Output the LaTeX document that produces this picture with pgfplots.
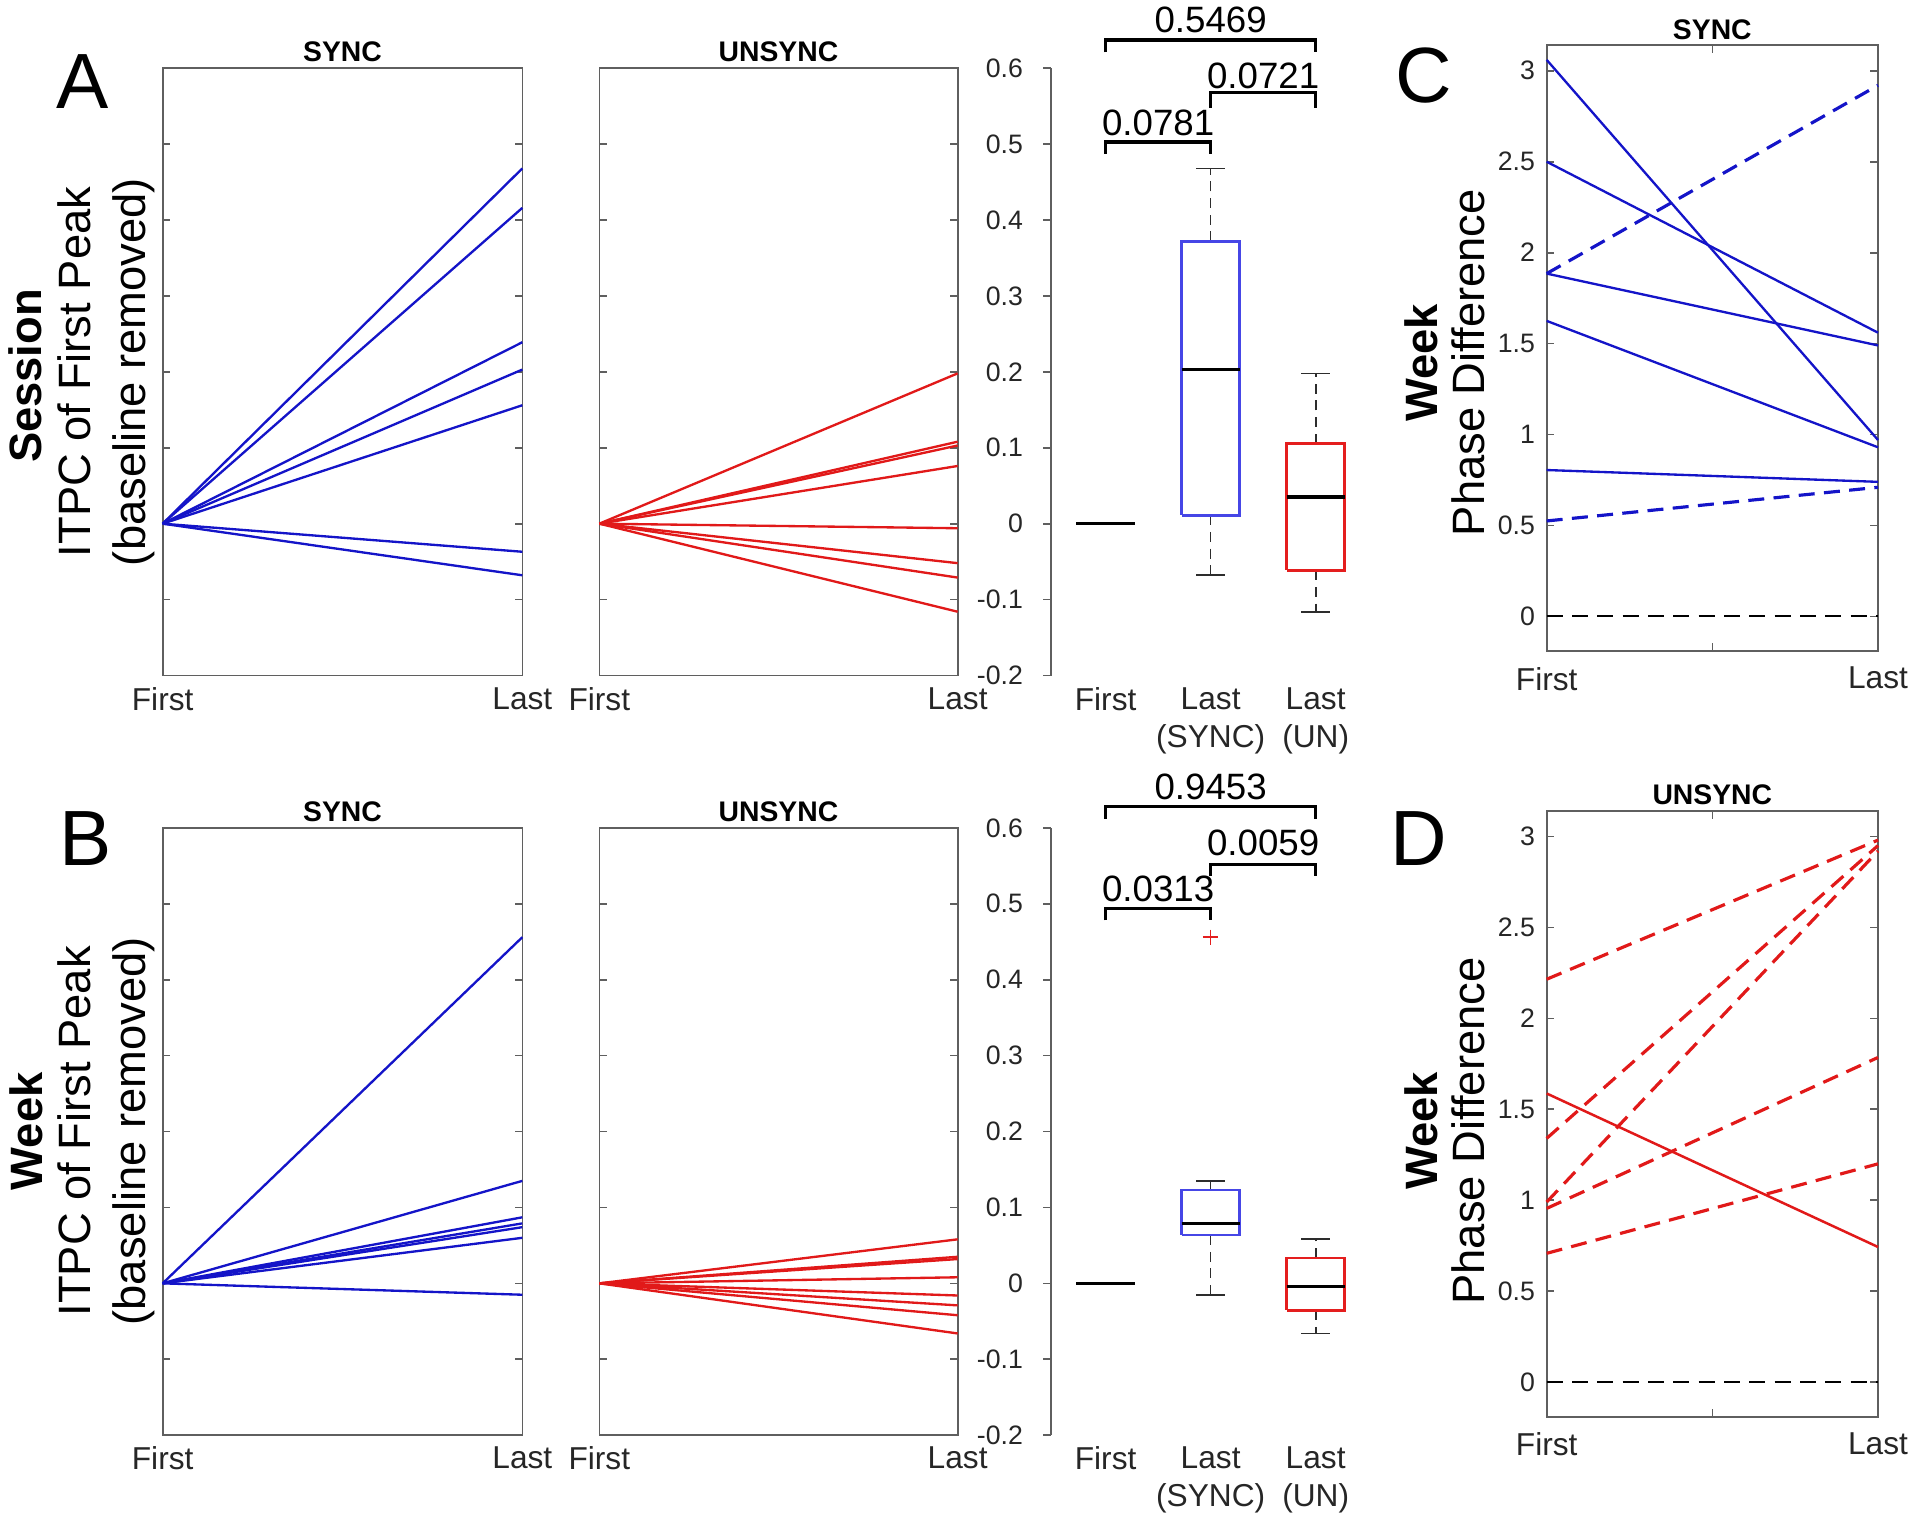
\documentclass[border=0pt]{standalone}
\usepackage{fontspec}
\setmainfont{Liberation Sans}
\usepackage{pgfplots}
\pgfplotsset{compat=1.18}

\definecolor{lblue}{RGB}{20,20,200}
\definecolor{lred}{RGB}{225,25,25}
\definecolor{bblue}{RGB}{70,70,230}
\definecolor{bred}{RGB}{228,30,30}
\definecolor{fr}{RGB}{95,95,95}
\definecolor{wh}{RGB}{45,45,45}

\newcommand{\fsz}[2]{\fontsize{#1}{#2}\selectfont}

\pgfplotsset{
  /pgf/number format/assume math mode=true,
  every axis title shift=0pt,
  basestyle/.style={
    scale only axis, anchor=south west, clip=false,
    axis line style={fr, line width=0.5pt},
    tick style={fr, line width=0.5pt},
    major tick length=2.3pt,
    tick label style={font=\fsz{8}{9.6}, text=black!85},
    title style={font=\bfseries\fsz{8.5}{10}, at={(0.5,1)}, anchor=south, inner sep=1.6pt},
  },
  pairstyle/.style={
    basestyle, height=182.2pt,
    xmin=1, xmax=2, ymin=-0.2, ymax=0.6,
    xtick={1,2}, xticklabels={First,Last},
    ytick={-0.1,0,0.1,0.2,0.3,0.4,0.5}, yticklabels={},
    tick align=inside,
    xtick style={draw=none},
    xticklabel style={font=\fsz{9.5}{11.4}},
  },
  boxstyle/.style={
    basestyle, width=98.3pt, height=182.2pt,
    xmin=0.48, xmax=3.6, ymin=-0.2, ymax=0.6,
    axis y line*=left, axis x line*=bottom,
    x axis line style={draw=none},
    xtick={1,2,3}, xticklabels={First,Last\\(SYNC),Last\\(UN)},
    xtick style={draw=none},
    xticklabel style={font=\fsz{9.5}{11.4}, align=center, yshift=2.3pt},
    ytick={-0.2,-0.1,0,0.1,0.2,0.3,0.4,0.5,0.6},
    yticklabel style={xshift=-2.6pt},
    tick align=outside,
  },
  phasestyle/.style={
    basestyle, width=99.4pt, height=181.7pt,
    xmin=1, xmax=2, ymin=-0.19, ymax=3.14,
    xtick={1,1.5,2}, xticklabels={First,,Last},
    ytick={0,0.5,1,1.5,2,2.5,3},
    tick align=inside,
    xticklabel style={font=\fsz{9.5}{11.4}, yshift=-1.3pt},
  },
  sline/.style={lblue, line width=0.7pt},
  rline/.style={lred, line width=0.7pt},
  dline/.style={line width=0.95pt, dash pattern=on 4.8pt off 2.8pt},
  bracket/.style={black, line width=1pt},
  whisk/.style={wh, line width=0.5pt, dash pattern=on 3pt off 2pt},
  wcap/.style={wh, line width=0.5pt},
  median/.style={black, line width=1pt},
  boxline/.style={line width=0.8pt},
}

\begin{document}
\begin{tikzpicture}
\path[use as bounding box] (0,0) rectangle (575.4pt,456.3pt);

% ---------------- Row A ----------------
\begin{axis}[pairstyle, width=107.9pt, at={(48.8pt,253.65pt)}, title={SYNC}]
\addplot[sline] coordinates {(1,0) (2,0.468)};
\addplot[sline] coordinates {(1,0) (2,0.416)};
\addplot[sline] coordinates {(1,0) (2,0.239)};
\addplot[sline] coordinates {(1,0) (2,0.203)};
\addplot[sline] coordinates {(1,0) (2,0.156)};
\addplot[sline] coordinates {(1,0) (2,-0.037)};
\addplot[sline] coordinates {(1,0) (2,-0.068)};
\end{axis}

\begin{axis}[pairstyle, width=107.5pt, at={(179.8pt,253.65pt)}, title={UNSYNC}]
\addplot[rline] coordinates {(1,0) (2,0.198)};
\addplot[rline] coordinates {(1,0) (2,0.108)};
\addplot[rline] coordinates {(1,0) (2,0.103)};
\addplot[rline] coordinates {(1,0) (2,0.076)};
\addplot[rline] coordinates {(1,0) (2,-0.006)};
\addplot[rline] coordinates {(1,0) (2,-0.052)};
\addplot[rline] coordinates {(1,0) (2,-0.071)};
\addplot[rline] coordinates {(1,0) (2,-0.116)};
\end{axis}

\begin{axis}[boxstyle, at={(315.3pt,253.65pt)}]
% First: all zeros
\addplot[median] coordinates {(0.7225,0) (1.2775,0)};
% Last (SYNC): lw -0.068, q1 0.011, med 0.203, q3 0.372, uw 0.468
\addplot[whisk] coordinates {(2,0.372) (2,0.468)};
\addplot[whisk] coordinates {(2,0.011) (2,-0.068)};
\addplot[wcap] coordinates {(1.865,0.468) (2.135,0.468)};
\addplot[wcap] coordinates {(1.865,-0.068) (2.135,-0.068)};
\addplot[bblue, boxline] coordinates {(1.7225,0.011) (2.2775,0.011) (2.2775,0.372) (1.7225,0.372) (1.7225,0.011)};
\addplot[median] coordinates {(1.7225,0.203) (2.2775,0.203)};
% Last (UN): lw -0.116, q1 -0.0615, med 0.035, q3 0.1055, uw 0.198
\addplot[whisk] coordinates {(3,0.1055) (3,0.198)};
\addplot[whisk] coordinates {(3,-0.0615) (3,-0.116)};
\addplot[wcap] coordinates {(2.865,0.198) (3.135,0.198)};
\addplot[wcap] coordinates {(2.865,-0.116) (3.135,-0.116)};
\addplot[bred, boxline] coordinates {(2.7225,-0.0615) (3.2775,-0.0615) (3.2775,0.1055) (2.7225,0.1055) (2.7225,-0.0615)};
\addplot[median] coordinates {(2.7225,0.035) (3.2775,0.035)};
% significance brackets
\addplot[bracket] coordinates {(1,0.487) (1,0.503) (2,0.503) (2,0.487)};
\addplot[bracket] coordinates {(2,0.548) (2,0.568) (3,0.568) (3,0.548)};
\addplot[bracket] coordinates {(1,0.621) (1,0.637) (3,0.637) (3,0.621)};
\node[font=\fsz{11}{13}] at (axis cs:1.5,0.528) {0.0781};
\node[font=\fsz{11}{13}] at (axis cs:2.5,0.590) {0.0721};
\node[font=\fsz{11}{13}] at (axis cs:2,0.664) {0.5469};
\end{axis}

% ---------------- Row B ----------------
\begin{axis}[pairstyle, width=107.9pt, at={(48.8pt,25.75pt)}, title={SYNC}]
\addplot[sline] coordinates {(1,0) (2,0.456)};
\addplot[sline] coordinates {(1,0) (2,0.135)};
\addplot[sline] coordinates {(1,0) (2,0.087)};
\addplot[sline] coordinates {(1,0) (2,0.079)};
\addplot[sline] coordinates {(1,0) (2,0.074)};
\addplot[sline] coordinates {(1,0) (2,0.060)};
\addplot[sline] coordinates {(1,0) (2,-0.015)};
\end{axis}

\begin{axis}[pairstyle, width=107.5pt, at={(179.8pt,25.75pt)}, title={UNSYNC}]
\addplot[rline] coordinates {(1,0) (2,0.058)};
\addplot[rline] coordinates {(1,0) (2,0.035)};
\addplot[rline] coordinates {(1,0) (2,0.032)};
\addplot[rline] coordinates {(1,0) (2,0.008)};
\addplot[rline] coordinates {(1,0) (2,-0.016)};
\addplot[rline] coordinates {(1,0) (2,-0.029)};
\addplot[rline] coordinates {(1,0) (2,-0.042)};
\addplot[rline] coordinates {(1,0) (2,-0.066)};
\end{axis}

\begin{axis}[boxstyle, at={(315.3pt,25.75pt)}]
\addplot[median] coordinates {(0.7225,0) (1.2775,0)};
% Last (SYNC): lw -0.015, q1 0.0635, med 0.079, q3 0.123, uw 0.135, outlier 0.456
\addplot[whisk] coordinates {(2,0.123) (2,0.135)};
\addplot[whisk] coordinates {(2,0.0635) (2,-0.015)};
\addplot[wcap] coordinates {(1.865,0.135) (2.135,0.135)};
\addplot[wcap] coordinates {(1.865,-0.015) (2.135,-0.015)};
\addplot[bblue, boxline] coordinates {(1.7225,0.0635) (2.2775,0.0635) (2.2775,0.123) (1.7225,0.123) (1.7225,0.0635)};
\addplot[median] coordinates {(1.7225,0.079) (2.2775,0.079)};
\addplot[only marks, mark=+, bred, mark size=2.3pt, line width=0.5pt] coordinates {(2,0.456)};
% Last (UN): lw -0.066, q1 -0.0355, med -0.004, q3 0.0335, uw 0.058
\addplot[whisk] coordinates {(3,0.0335) (3,0.058)};
\addplot[whisk] coordinates {(3,-0.0355) (3,-0.066)};
\addplot[wcap] coordinates {(2.865,0.058) (3.135,0.058)};
\addplot[wcap] coordinates {(2.865,-0.066) (3.135,-0.066)};
\addplot[bred, boxline] coordinates {(2.7225,-0.0355) (3.2775,-0.0355) (3.2775,0.0335) (2.7225,0.0335) (2.7225,-0.0355)};
\addplot[median] coordinates {(2.7225,-0.004) (3.2775,-0.004)};
\addplot[bracket] coordinates {(1,0.478) (1,0.494) (2,0.494) (2,0.478)};
\addplot[bracket] coordinates {(2,0.536) (2,0.552) (3,0.552) (3,0.536)};
\addplot[bracket] coordinates {(1,0.612) (1,0.628) (3,0.628) (3,0.612)};
\node[font=\fsz{11}{13}] at (axis cs:1.5,0.520) {0.0313};
\node[font=\fsz{11}{13}] at (axis cs:2.5,0.580) {0.0059};
\node[font=\fsz{11}{13}] at (axis cs:2,0.654) {0.9453};
\end{axis}

% ---------------- Panel C ----------------
\begin{axis}[phasestyle, at={(464.0pt,261.0pt)}, title={SYNC}]
\addplot[black, line width=0.6pt, dash pattern=on 4.8pt off 2.8pt] coordinates {(1,0) (2,0)};
\addplot[sline] coordinates {(1,3.06) (2,0.97)};
\addplot[sline] coordinates {(1,2.50) (2,1.56)};
\addplot[sline] coordinates {(1,1.885) (2,1.49)};
\addplot[sline] coordinates {(1,1.625) (2,0.93)};
\addplot[sline] coordinates {(1,0.805) (2,0.74)};
\addplot[lblue, dline] coordinates {(1,1.885) (2,2.92)};
\addplot[lblue, dline] coordinates {(1,0.525) (2,0.71)};
\end{axis}

% ---------------- Panel D ----------------
\begin{axis}[phasestyle, at={(464.0pt,31.3pt)}, title={UNSYNC}]
\addplot[black, line width=0.6pt, dash pattern=on 4.8pt off 2.8pt] coordinates {(1,0) (2,0)};
\addplot[lred, dline] coordinates {(1,2.215) (2,2.98)};
\addplot[lred, dline] coordinates {(1,1.34) (2,2.95)};
\addplot[lred, dline] coordinates {(1,0.99) (2,2.92)};
\addplot[lred, dline] coordinates {(1,0.955) (2,1.785)};
\addplot[lred, dline] coordinates {(1,0.708) (2,1.20)};
\addplot[lred, line width=0.75pt] coordinates {(1,1.587) (2,0.743)};
\end{axis}

% ---------------- Labels ----------------
\node[rotate=90, font=\bfseries\fsz{13.6}{16}] at (7.5pt,343.5pt) {Session};
\node[rotate=90, font=\fsz{13.6}{16}] at (22.4pt,344.7pt) {ITPC of First Peak};
\node[rotate=90, font=\fsz{13.6}{16}] at (40.2pt,344.7pt) {(baseline removed)};

\node[rotate=90, font=\bfseries\fsz{13.6}{16}] at (7.8pt,116.9pt) {Week};
\node[rotate=90, font=\fsz{13.6}{16}] at (22.4pt,116.9pt) {ITPC of First Peak};
\node[rotate=90, font=\fsz{13.6}{16}] at (40.2pt,116.9pt) {(baseline removed)};

\node[rotate=90, font=\bfseries\fsz{13.6}{16}] at (426.3pt,347.5pt) {Week};
\node[rotate=90, font=\fsz{13.6}{16}] at (440.4pt,347.5pt) {Phase Difference};

\node[rotate=90, font=\bfseries\fsz{13.6}{16}] at (426.3pt,117pt) {Week};
\node[rotate=90, font=\fsz{13.6}{16}] at (440.4pt,117pt) {Phase Difference};

\node[font=\fsz{23.5}{28}] at (24.7pt,431.9pt) {A};
\node[font=\fsz{23.5}{28}] at (25.7pt,204.6pt) {B};
\node[font=\fsz{23.5}{28}] at (427pt,433.6pt) {C};
\node[font=\fsz{23.5}{28}] at (425.7pt,204.6pt) {D};
\end{tikzpicture}
\end{document}
